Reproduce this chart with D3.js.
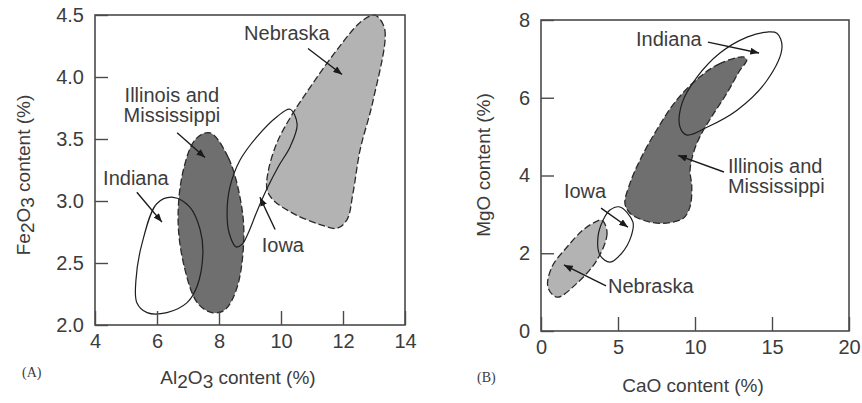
<!DOCTYPE html>
<html>
<head>
<meta charset="utf-8">
<script src="https://cdn.jsdelivr.net/npm/d3@7"></script>
<style>
  html, body { margin: 0; padding: 0; background: #fff; }
  svg { display: block; }
  text { font-family: "Liberation Sans", Arial, sans-serif; fill: #3c3c3c; }
</style>
</head>
<body>
<svg id="chart" width="862" height="403"></svg>
<script>
// ---- Axis ticks ----
const aXTicks = [4, 6, 8, 10, 12, 14];
const aYTicks = [2.0, 2.5, 3.0, 3.5, 4.0, 4.5];
const bXTicks = [0, 5, 10, 15, 20];
const bYTicks = [0, 2, 4, 6, 8];

// ---- (A) Al2O3 vs Fe2O3 field outlines, [Al2O3 %, Fe2O3 %] ----
const aNebraska = [
  [13.10, 4.49], [13.35, 4.38], [12.97, 3.81], [12.55, 3.41], [12.32, 3.06],
  [12.13, 2.85], [11.81, 2.78], [11.26, 2.81], [10.39, 2.90], [9.74, 3.01],
  [9.55, 3.09], [9.58, 3.23], [9.87, 3.47], [10.39, 3.71], [11.03, 3.95],
  [11.81, 4.22], [12.55, 4.44], [12.97, 4.50]
];
const aIllinois = [
  [7.71, 3.55], [8.30, 3.35], [8.70, 3.00], [8.80, 2.70], [8.58, 2.30],
  [8.18, 2.12], [7.77, 2.10], [7.30, 2.18], [6.87, 2.48], [6.68, 2.85],
  [6.85, 3.25], [7.25, 3.50]
];
const aIndiana = [
  [6.52, 3.03], [6.00, 2.98], [5.52, 2.66], [5.32, 2.36], [5.35, 2.18],
  [5.68, 2.10], [6.32, 2.10], [6.97, 2.18], [7.29, 2.31], [7.48, 2.58],
  [7.39, 2.77], [7.06, 2.95]
];
const aIowa = [
  [10.29, 3.74], [10.52, 3.62], [10.30, 3.44], [9.92, 3.28], [9.55, 3.10],
  [9.23, 2.92], [8.94, 2.74], [8.74, 2.65], [8.55, 2.63], [8.33, 2.74],
  [8.26, 2.90], [8.35, 3.11], [8.68, 3.33], [9.23, 3.52], [9.87, 3.68]
];

// ---- (B) CaO vs MgO field outlines, [CaO %, MgO %] ----
const bIndiana = [
  [15.32, 7.66], [15.65, 7.30], [14.68, 6.45], [12.73, 5.68], [10.78, 5.24],
  [9.48, 5.04], [9.03, 5.24], [9.16, 5.86], [10.13, 6.53], [11.62, 7.15],
  [13.38, 7.56], [14.68, 7.69]
];
const bIllinois = [
  [13.14, 7.05], [11.62, 6.88], [10.32, 6.54], [8.81, 5.94], [7.51, 5.17],
  [6.43, 4.40], [5.78, 3.80], [5.45, 3.28], [5.78, 3.03], [6.64, 2.85],
  [7.94, 2.77], [9.24, 2.90], [9.68, 3.20], [9.79, 3.71], [9.68, 4.14],
  [9.89, 4.57], [10.32, 5.00], [11.08, 5.51], [12.06, 6.11], [12.92, 6.71],
  [13.36, 6.97]
];
const bIowa = [
  [5.13, 3.19], [5.97, 2.80], [5.84, 2.42], [5.26, 2.01], [4.48, 1.77],
  [3.83, 1.95], [3.70, 2.42], [4.03, 2.85], [4.48, 3.11]
];
const bNebraska = [
  [3.96, 2.85], [4.29, 2.52], [3.64, 1.83], [2.34, 1.23], [1.04, 0.87],
  [0.45, 1.13], [0.71, 1.65], [1.69, 2.16], [2.73, 2.60], [3.51, 2.80]
];

// ---- Field labels with leader arrows (data units) ----
const aLabels = [
  { lines: ["Nebraska"], at: [10.19, 4.30], anchor: "middle", from: [10.87, 4.23], to: [11.97, 4.02] },
  { lines: ["Illinois and", "Mississippi"], at: [6.48, 3.80], anchor: "middle", from: [6.65, 3.55], to: [7.55, 3.35] },
  { lines: ["Indiana"], at: [5.32, 3.13], anchor: "middle", from: [5.35, 3.07], to: [6.16, 2.83] },
  { lines: ["Iowa"], at: [10.06, 2.59], anchor: "middle", from: [9.81, 2.77], to: [9.32, 3.03] }
];
const bLabels = [
  { lines: ["Indiana"], at: [6.17, 7.33], anchor: "start", from: [10.84, 7.43], to: [14.16, 7.15] },
  { lines: ["Illinois and", "Mississippi"], at: [12.14, 4.06], anchor: "start", from: [11.88, 4.09], to: [8.90, 4.52] },
  { lines: ["Iowa"], at: [2.86, 3.42], anchor: "middle", from: [3.90, 3.16], to: [5.65, 2.67] },
  { lines: ["Nebraska"], at: [4.35, 0.98], anchor: "start", from: [4.22, 1.16], to: [1.49, 1.70] }
];

const svg = d3.select("#chart");

svg.append("defs").append("marker")
  .attr("id", "head")
  .attr("viewBox", "0 0 10 8")
  .attr("refX", 10).attr("refY", 4)
  .attr("markerUnits", "userSpaceOnUse")
  .attr("markerWidth", 9).attr("markerHeight", 7)
  .attr("orient", "auto")
  .append("path").attr("d", "M0,0 L10,4 L0,8 Z").attr("fill", "#1a1a1a");

function drawPanel(p) {
  const g = svg.append("g").attr("transform", `translate(${p.left},${p.top})`);
  const x = d3.scaleLinear().domain(p.xDomain).range([0, p.width]);
  const y = d3.scaleLinear().domain(p.yDomain).range([p.height, 0]);
  const line = d3.line()
    .x(d => x(d[0])).y(d => y(d[1]))
    .curve(d3.curveCatmullRomClosed.alpha(0.5));

  // shaded fields with dashed boundaries
  p.filled.forEach(f => {
    g.append("path").attr("d", line(f.pts))
      .attr("fill", f.fill)
      .attr("stroke", "#2a2a2a").attr("stroke-width", 1.3)
      .attr("stroke-dasharray", "7,3");
  });
  // open fields with solid boundaries
  p.open.forEach(pts => {
    g.append("path").attr("d", line(pts))
      .attr("fill", "none")
      .attr("stroke", "#1e1e1e").attr("stroke-width", 1.2);
  });

  // labels and arrows
  p.labels.forEach(l => {
    const t = g.append("text")
      .attr("x", x(l.at[0])).attr("y", y(l.at[1]))
      .attr("text-anchor", l.anchor)
      .style("font-size", "20px");
    l.lines.forEach((s, i) => {
      t.append("tspan").attr("x", x(l.at[0])).attr("dy", i === 0 ? 0 : 20).text(s);
    });
    g.append("line")
      .attr("x1", x(l.from[0])).attr("y1", y(l.from[1]))
      .attr("x2", x(l.to[0])).attr("y2", y(l.to[1]))
      .attr("stroke", "#1a1a1a").attr("stroke-width", 1.4)
      .attr("marker-end", "url(#head)");
  });

  // axes with inward ticks
  const xAxis = d3.axisBottom(x).tickValues(p.xTicks).tickSize(-14).tickPadding(9)
    .tickFormat(p.xFormat);
  const yAxis = d3.axisLeft(y).tickValues(p.yTicks).tickSize(-13).tickPadding(11)
    .tickFormat(p.yFormat);
  const gx = g.append("g").attr("transform", `translate(0,${p.height})`).call(xAxis);
  const gy = g.append("g").call(yAxis);
  [gx, gy].forEach(a => {
    a.select(".domain").remove();
    a.selectAll(".tick line").attr("stroke", "#4a4a4a").attr("stroke-width", 1.4);
    a.selectAll(".tick text").style("font-size", "20px")
      .style("font-family", "'Liberation Sans', Arial, sans-serif").attr("fill", "#3c3c3c");
  });
  gy.selectAll(".tick text").attr("dy", "0.32em");

  // frame
  g.append("rect").attr("width", p.width).attr("height", p.height)
    .attr("fill", "none").attr("stroke", "#4a4a4a").attr("stroke-width", 1.6);

  // axis titles
  const xt = svg.append("text")
    .attr("x", p.xTitlePos[0]).attr("y", p.xTitlePos[1])
    .attr("text-anchor", "middle").style("font-size", "19px");
  p.xTitle.forEach(s => xt.append("tspan").attr("dy", s.dy || 0).text(s.t));
  const yt = svg.append("text")
    .attr("transform", `translate(${p.yTitlePos[0]},${p.yTitlePos[1]}) rotate(-90)`)
    .attr("text-anchor", "middle").style("font-size", "19px");
  p.yTitle.forEach(s => yt.append("tspan").attr("dy", s.dy || 0).text(s.t));

  svg.append("text")
    .attr("x", p.tagPos[0]).attr("y", p.tagPos[1])
    .style("font-family", "'Liberation Serif', 'Times New Roman', serif")
    .style("font-size", "14px")
    .text(p.tag);
}

drawPanel({
  left: 95, top: 15, width: 310, height: 310,
  xDomain: [4, 14], yDomain: [2, 4.5],
  xTicks: aXTicks, yTicks: aYTicks,
  xFormat: d3.format("d"), yFormat: d3.format(".1f"),
  filled: [
    { pts: aNebraska, fill: "#b3b3b3" },
    { pts: aIllinois, fill: "#6f6f6f" }
  ],
  open: [aIndiana, aIowa],
  labels: aLabels,
  xTitle: [{ t: "Al" }, { t: "2", dy: 4 }, { t: "O", dy: -4 }, { t: "3", dy: 4 }, { t: " content (%)", dy: -4 }],
  xTitlePos: [238, 384],
  yTitle: [{ t: "Fe" }, { t: "2", dy: 4 }, { t: "O", dy: -4 }, { t: "3", dy: 4 }, { t: " content (%)", dy: -4 }],
  yTitlePos: [30, 175],
  tag: "(A)", tagPos: [22, 377]
});

drawPanel({
  left: 541, top: 20, width: 308, height: 311,
  xDomain: [0, 20], yDomain: [0, 8],
  xTicks: bXTicks, yTicks: bYTicks,
  xFormat: d3.format("d"), yFormat: d3.format("d"),
  filled: [
    { pts: bNebraska, fill: "#b3b3b3" },
    { pts: bIllinois, fill: "#6f6f6f" }
  ],
  open: [bIndiana, bIowa],
  labels: bLabels,
  xTitle: [{ t: "CaO content (%)" }],
  xTitlePos: [693, 392],
  yTitle: [{ t: "MgO content (%)" }],
  yTitlePos: [490, 165],
  tag: "(B)", tagPos: [477, 382]
});
</script>
</body>
</html>
